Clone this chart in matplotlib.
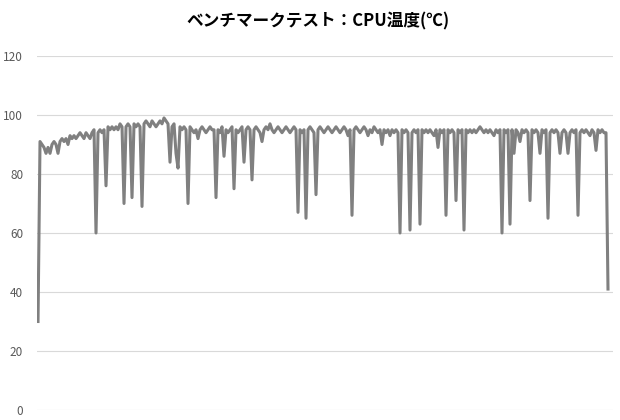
import numpy as np
import matplotlib.pyplot as plt

plt.rcParams['font.family'] = ['Noto Sans CJK JP', 'DejaVu Sans']

# CPU temperature readings (deg C)
cpu_temp = [
    30, 91, 90, 89, 87, 89, 87, 90, 91, 90, 87, 91, 92, 91, 92, 90, 93, 92, 93, 92,
    93, 94, 93, 92, 94, 93, 92, 94, 95, 60, 94, 95, 94, 95, 76, 96, 95, 96, 95, 96,
    95, 97, 96, 70, 96, 97, 96, 72, 97, 96, 97, 96, 69, 97, 98, 97, 96, 98, 97, 96,
    97, 98, 97, 99, 98, 97, 84, 96, 97, 87, 82, 96, 95, 96, 95, 70, 96, 95, 94, 95,
    92, 95, 96, 95, 94, 95, 96, 95, 95, 72, 95, 94, 96, 86, 95, 94, 95, 96, 75, 95,
    94, 95, 96, 84, 95, 96, 95, 78, 95, 96, 95, 94, 91, 95, 96, 95, 97, 95, 94, 95,
    96, 95, 94, 95, 96, 95, 94, 95, 96, 95, 67, 95, 94, 95, 65, 95, 96, 95, 94, 73,
    95, 96, 95, 94, 95, 96, 95, 94, 95, 96, 95, 94, 95, 96, 95, 93, 95, 66, 95, 96,
    95, 94, 95, 96, 95, 93, 95, 94, 96, 95, 94, 95, 90, 95, 94, 95, 93, 95, 94, 95,
    94, 60, 95, 94, 95, 94, 61, 94, 95, 94, 95, 63, 95, 94, 95, 94, 95, 94, 93, 95,
    89, 95, 94, 95, 66, 95, 94, 95, 94, 71, 95, 94, 95, 61, 95, 94, 95, 94, 95, 94,
    95, 96, 95, 94, 95, 94, 95, 94, 93, 95, 94, 95, 60, 95, 94, 95, 63, 95, 87, 95,
    94, 91, 95, 94, 95, 94, 71, 95, 94, 95, 94, 87, 95, 94, 95, 65, 94, 95, 94, 95,
    94, 87, 94, 95, 94, 87, 94, 95, 94, 95, 66, 94, 95, 94, 95, 94, 93, 95, 94, 88,
    95, 94, 95, 94, 94, 41,
]
y_ticks = [0, 20, 40, 60, 80, 100, 120]
title = 'ベンチマークテスト：CPU温度(℃)'

x = np.arange(len(cpu_temp))

fig = plt.figure(figsize=(6.2, 4.2), dpi=100)
ax = fig.add_axes([0.0597, 0.0238, 0.929, 0.8429])

ax.plot(x, cpu_temp, color='#808080', linewidth=2.2, solid_joinstyle='round')

ax.set_ylim(0, 120)
ax.set_xlim(-0.5, len(cpu_temp) + 1.5)
ax.set_yticks(y_ticks)
ax.set_xticks([])
ax.yaxis.grid(True, color='#d9d9d9', linewidth=0.8)
ax.set_axisbelow(True)
for s in ax.spines.values():
    s.set_visible(False)
ax.tick_params(axis='y', length=0, labelsize=8.5, labelcolor='#595959', pad=10)

fig.text(0.513, 0.948, title, ha='center', va='center',
         fontsize=12, fontweight='bold', color='#000000')

fig.savefig('out.png', dpi=100)
